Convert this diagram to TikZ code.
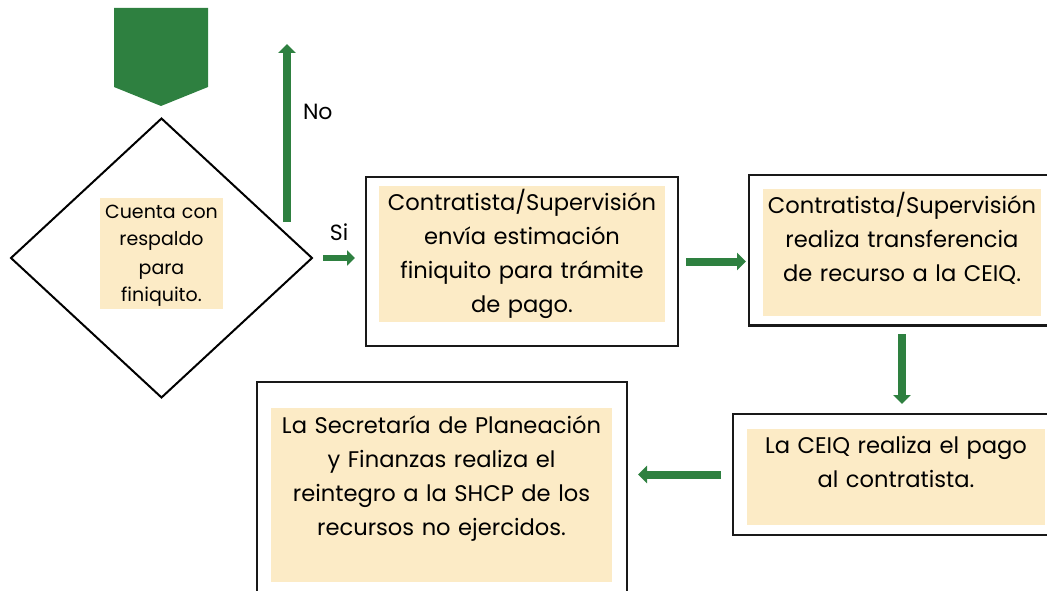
\documentclass[tikz,border=0pt]{standalone}
\usepackage{fontspec}
\setmainfont{Poppins}
\usetikzlibrary{shapes.geometric,arrows.meta}
\definecolor{flowgreen}{RGB}{46,128,64}
\definecolor{notefill}{RGB}{252,235,198}

\begin{document}
\begin{tikzpicture}
  [x=1pt,y=-1pt,
    every node/.style={inner sep=0pt,outer sep=0pt},
    frame/.style={draw=black!90,line width=2.5pt},
    note/.style={fill=notefill},
    decision/.style={diamond,draw,line width=2pt,aspect=1.08,minimum width=301pt,minimum height=279pt},
    boxtext/.style={text width=360pt,align=center,anchor=base,font=\fontsize{22.6}{34}\selectfont},
    smalltext/.style={text width=140pt,align=center,anchor=base,font=\fontsize{19}{28}\selectfont},
    flowlabel/.style={font=\fontsize{22}{26}\selectfont},
    flow/.style={draw=flowgreen,line width=8pt,-{Triangle[length=9pt,width=17pt]}},
  ]
  \useasboundingbox (0,0) rectangle (1047,591);
  \fill[flowgreen] (114,8) -- (208,8) -- (208,87) -- (161,106) -- (114,87) -- cycle;
  \node[decision] (d) at (161.5,258) {};
  \node[note,minimum width=123pt,minimum height=111pt] (dn) at (161.5,253.5) {};
  \node[smalltext] (dt) at (161.5,218) {Cuenta con\\respaldo\\para\\finiquito.};

  \node[frame,minimum width=312pt,minimum height=169pt] (b1) at (522,261.5) {};
  \node[note,minimum width=286pt,minimum height=136pt] (f1) at (522,254) {};
  \node[boxtext] (t1) at (522,211) {Contratista/Supervisión\\envía estimación\\finiquito para trámite\\de pago.};

  \node[frame,minimum width=303pt,minimum height=150.5pt] (b2) at (900.5,250.25) {};
  \node[note,minimum width=278pt,minimum height=127pt] (f2) at (902,252.5) {};
  \node[boxtext] (t2) at (902,213) {Contratista/Supervisión\\realiza transferencia\\de recurso a la CEIQ.};

  \node[frame,minimum width=319pt,minimum height=121pt] (b3) at (892.5,474.5) {};
  \node[note,minimum width=298pt,minimum height=96pt] (f3) at (896,477) {};
  \node[boxtext] (t3) at (896,453) {La CEIQ realiza el pago\\al contratista.};

  \node[frame,minimum width=370pt,minimum height=218pt] (b4) at (442,491) {};
  \node[note,minimum width=341pt,minimum height=174pt] (f4) at (441.5,495) {};
  \node[boxtext] (t4) at (441.5,433) {La Secretaría de Planeación\\y Finanzas realiza el\\reintegro a la SHCP de los\\recursos no ejercidos.};

  \coordinate (nostart) at (287,222);
  \coordinate (noend) at (287,44);
  \draw[flow] (nostart) -- (noend) node[flowlabel,pos=0.62,right=16pt] (no) {No};
  \draw[flow,line width=6pt,-{Triangle[length=8pt,width=15pt]}] ([xshift=11pt]d.east) -- ([xshift=-11pt]b1.west |- d.east) node[flowlabel,midway,above=17pt] (si) {Si};
  \draw[flow] ([xshift=8pt]b1.east) -- ([xshift=-3pt]b2.west |- b1.east);
  \draw[flow] ([yshift=-18pt]f2.south) -- ([yshift=10pt]b3.north -| f2.south);
  \draw[flow] ([xshift=-12pt]b3.west) -- ([xshift=11pt]b4.east |- b3.west);
\end{tikzpicture}
\end{document}
